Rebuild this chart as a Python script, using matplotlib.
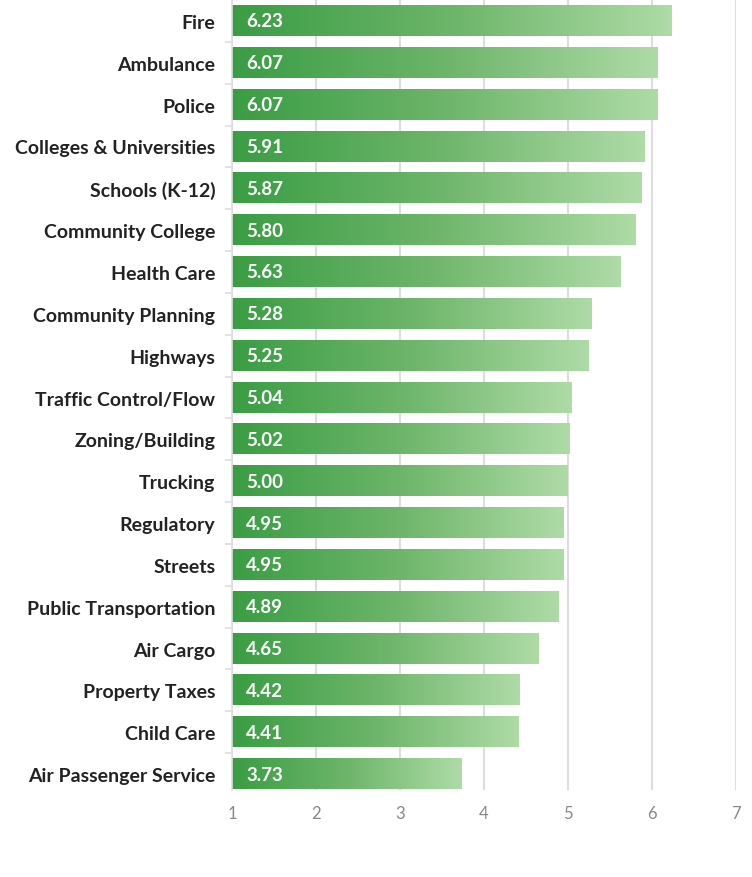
import numpy as np
import matplotlib
matplotlib.use("Agg")
import matplotlib.pyplot as plt
from matplotlib.colors import LinearSegmentedColormap

categories = ["Fire", "Ambulance", "Police", "Colleges & Universities",
              "Schools (K-12)", "Community College", "Health Care",
              "Community Planning", "Highways", "Traffic Control/Flow",
              "Zoning/Building", "Trucking", "Regulatory", "Streets",
              "Public Transportation", "Air Cargo", "Property Taxes",
              "Child Care", "Air Passenger Service"]
scores = [6.23, 6.07, 6.07, 5.91, 5.87, 5.80, 5.63, 5.28, 5.25, 5.04,
          5.02, 5.00, 4.95, 4.95, 4.89, 4.65, 4.42, 4.41, 3.73]
x_ticks = [1, 2, 3, 4, 5, 6, 7]

# gradient along each bar, dark on the left
green = LinearSegmentedColormap.from_list("grn", ["#3a9d44", "#6db56a", "#aedba6"])
grad = np.linspace(0, 1, 256).reshape(1, -1)

fig = plt.figure(figsize=(7.52, 8.78), dpi=100)
ax = fig.add_axes([232 / 752, 1 - 791 / 878, (736 - 232) / 752, 790 / 878])

y_pos = np.arange(len(categories))
bars = ax.barh(y_pos, [s - 1 for s in scores], left=1, height=0.72,
               color="none", zorder=2)

for bar, s in zip(bars, scores):
    x0, y0 = bar.get_x(), bar.get_y()
    w, h = bar.get_width(), bar.get_height()
    ax.imshow(grad, cmap=green, aspect="auto", zorder=2,
              extent=(x0, x0 + w, y0 + h, y0), interpolation="bilinear")
    ax.text(x0 + 0.17, y0 + h / 2, "%.2f" % s, color="white",
            fontsize=13.5, fontweight="bold", family="Lato",
            va="center", ha="left", zorder=3)

ax.set_xlim(1, 7)
ax.set_ylim(18.38, -0.5)
ax.set_xticks(x_ticks)
ax.set_xticklabels([str(t) for t in x_ticks], color="#888888",
                   fontsize=12, family="Lato")
ax.set_yticks(y_pos)
ax.set_yticklabels(categories, fontsize=14, fontweight="bold",
                   family="Lato", color="#222222")
ax.set_yticks(y_pos[:-1] + 0.5, minor=True)

ax.tick_params(axis="x", length=0, pad=11)
ax.tick_params(axis="y", which="major", length=0, pad=12)
ax.tick_params(axis="y", which="minor", length=5, color="#dddddd", width=1.2)

ax.grid(axis="x", color="#dddddd", linewidth=1.5, zorder=0)
ax.set_axisbelow(True)
for side in ["top", "right", "bottom"]:
    ax.spines[side].set_visible(False)
ax.spines["left"].set_color("#dddddd")
ax.spines["left"].set_linewidth(1.2)

fig.savefig("out.png", dpi=100)
